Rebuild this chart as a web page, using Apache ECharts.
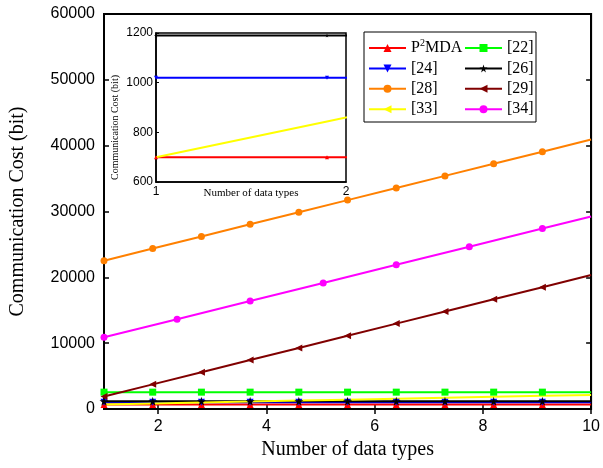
<!DOCTYPE html>
<html>
<head>
<meta charset="utf-8">
<script src="https://cdn.jsdelivr.net/npm/echarts@6/dist/echarts.min.js"></script>
<style>
  html, body { margin: 0; padding: 0; background: #fff; }
  #chart { width: 603px; height: 468px; }
</style>
</head>
<body>
<div id="chart"></div>
<script>
// x positions where the markers sit (number of data types)
const xs = [1, 1.9, 2.8, 3.7, 4.6, 5.5, 6.4, 7.3, 8.2, 9.1, 10]
const xsRef34 = [1, 2.35, 3.7, 5.05, 6.4, 7.75, 9.1, 10]

// communication cost (bit)
const p2mda = [700, 700, 700, 700, 700, 700, 700, 700, 700, 700, 700]
const ref22 = [2560, 2560, 2560, 2560, 2560, 2560, 2560, 2560, 2560, 2560, 2560]
const ref24 = [1020, 1020, 1020, 1020, 1020, 1020, 1020, 1020, 1020, 1020, 1020]
const ref26 = [1190, 1190, 1190, 1190, 1190, 1190, 1190, 1190, 1190, 1190, 1190]
const ref28 = [22530, 24370, 26210, 28050, 29890, 31730, 33570, 35410, 37250, 39090, 40930]
const ref29 = [1900, 3745, 5590, 7435, 9280, 11125, 12970, 14815, 16660, 18505, 20350]
const ref33 = [700, 844, 988, 1132, 1276, 1420, 1564, 1708, 1852, 1996, 2140]
const ref34 = [10890, 13644, 16398, 19152, 21906, 24660, 27414, 29250]

const xTicks = [2, 4, 6, 8, 10]

const star = 'path://M50,0 L61,35 L98,35 L68,57 L79,91 L50,70 L21,91 L32,57 L2,35 L39,35 Z'
const serif = 'Liberation Serif'
const sans = 'Liberation Sans'

// the curves run on past 10, so no marker is drawn at the right edge
function pairs(x, y) {
  return y.map((v, i) => x[i] >= 10 ? { value: [x[i], v], symbol: 'none' } : [x[i], v])
}

const styles = [
  { name: 'P2MDA', color: '#ff0000', symbol: 'triangle', rotate: 0, x: xs, y: p2mda },
  { name: '[22]', color: '#00ff00', symbol: 'rect', rotate: 0, x: xs, y: ref22 },
  { name: '[24]', color: '#0000ff', symbol: 'triangle', rotate: 180, x: xs, y: ref24 },
  { name: '[26]', color: '#000000', symbol: star, rotate: 0, x: xs, y: ref26 },
  { name: '[28]', color: '#ff8000', symbol: 'circle', rotate: 0, x: xs, y: ref28 },
  { name: '[29]', color: '#800000', symbol: 'triangle', rotate: 90, x: xs, y: ref29 },
  { name: '[33]', color: '#ffff00', symbol: 'triangle', rotate: 90, x: xs, y: ref33, noMarks: true },
  { name: '[34]', color: '#ff00ff', symbol: 'circle', rotate: 0, x: xsRef34, y: ref34 }
]

const series = styles.map(s => ({
  name: s.name,
  type: 'line',
  xAxisIndex: 0,
  yAxisIndex: 0,
  data: pairs(s.x, s.y),
  symbol: s.symbol,
  symbolRotate: s.rotate,
  symbolSize: s.symbol === star ? 9 : 7,
  showSymbol: !s.noMarks,
  color: s.color,
  lineStyle: { width: 2, color: s.color },
  itemStyle: { color: s.color },
  animation: false
}))

// inset: zoom on the low series between 1 and 2 data types
const insetNames = ['P2MDA', '[24]', '[26]', '[33]']
styles.filter(s => insetNames.includes(s.name)).forEach(s => {
  series.push({
    name: s.name,
    type: 'line',
    xAxisIndex: 2,
    yAxisIndex: 2,
    data: pairs(s.x, s.y),
    symbol: s.symbol,
    symbolRotate: s.rotate,
    symbolSize: 4,
    showSymbol: !s.noMarks,
    clip: true,
    color: s.color,
    lineStyle: { width: 2, color: s.color },
    itemStyle: { color: s.color },
    animation: false
  })
})

const legendBase = {
  orient: 'vertical',
  top: 38,
  padding: 0,
  itemWidth: 37,
  itemHeight: 10,
  itemGap: 0.4,
  selectedMode: false,
  formatter: n => n === 'P2MDA' ? 'P{sup|2}MDA' : n,
  textStyle: {
    fontFamily: serif,
    fontSize: 16,
    lineHeight: 20,
    color: '#000',
    rich: {
      sup: { fontFamily: serif, fontSize: 10, lineHeight: 20, verticalAlign: 'top', padding: [0, 0, 8, 0], color: '#000' }
    }
  }
}

const blackLine = { show: true, lineStyle: { color: '#000', width: 2 } }
const plain = v => String(v)

const option = {
  backgroundColor: '#fff',
  animation: false,
  grid: [
    { left: 102, right: 9, top: 14, bottom: 59, show: true, borderColor: '#000', borderWidth: 2 },
    { left: 156, top: 33, width: 190, height: 149, show: true, borderColor: '#000', borderWidth: 1.5, backgroundColor: '#fff' }
  ],
  legend: [
    Object.assign({}, legendBase, { left: 368, data: ['P2MDA', '[24]', '[28]', '[33]'] }),
    Object.assign({}, legendBase, { left: 464, data: ['[22]', '[26]', '[29]', '[34]'] })
  ],
  graphic: [
    {
      type: 'rect',
      shape: { x: 364, y: 32, width: 172, height: 90 },
      style: { fill: 'none', stroke: '#000', lineWidth: 1 },
      z: 10
    }
  ],
  xAxis: [
    {
      gridIndex: 0,
      type: 'value',
      min: 1,
      max: 10,
      position: 'bottom',
      axisLine: blackLine,
      axisTick: { show: true, inside: true, length: 5, customValues: xTicks, lineStyle: { color: '#000', width: 1.5 } },
      axisLabel: { customValues: xTicks, formatter: plain, fontFamily: sans, fontSize: 16, color: '#000', margin: 10 },
      splitLine: { show: false },
      name: 'Number of data types',
      nameLocation: 'middle',
      nameGap: 30,
      nameTextStyle: { fontFamily: serif, fontSize: 20, color: '#000' }
    },
    {
      gridIndex: 0,
      type: 'value',
      min: 1,
      max: 10,
      position: 'top',
      axisLine: blackLine,
      axisTick: { show: true, inside: true, length: 5, customValues: xTicks, lineStyle: { color: '#000', width: 1.5 } },
      axisLabel: { show: false },
      splitLine: { show: false }
    },
    {
      gridIndex: 1,
      type: 'value',
      min: 1,
      max: 2,
      interval: 1,
      axisLine: { show: true, lineStyle: { color: '#000', width: 1.5 } },
      axisTick: { show: false },
      axisLabel: { formatter: plain, fontFamily: sans, fontSize: 12, color: '#000', margin: 4 },
      splitLine: { show: false },
      name: 'Number of data types',
      nameLocation: 'middle',
      nameGap: 6,
      nameMoveOverlap: false,
      nameTextStyle: { fontFamily: serif, fontSize: 11, color: '#000', verticalAlign: 'top' }
    }
  ],
  yAxis: [
    {
      gridIndex: 0,
      type: 'value',
      min: 0,
      max: 60000,
      interval: 10000,
      position: 'left',
      axisLine: blackLine,
      axisTick: { show: true, inside: true, length: 5, lineStyle: { color: '#000', width: 1.5 } },
      axisLabel: { formatter: plain, fontFamily: sans, fontSize: 16, color: '#000', margin: 9 },
      splitLine: { show: false },
      name: 'Communication Cost (bit)',
      nameLocation: 'middle',
      nameGap: 76,
      nameMoveOverlap: false,
      nameTextStyle: { fontFamily: serif, fontSize: 20, color: '#000' }
    },
    {
      gridIndex: 0,
      type: 'value',
      min: 0,
      max: 60000,
      interval: 10000,
      position: 'right',
      axisLine: blackLine,
      axisTick: { show: true, inside: true, length: 5, lineStyle: { color: '#000', width: 1.5 } },
      axisLabel: { show: false },
      splitLine: { show: false }
    },
    {
      gridIndex: 1,
      type: 'value',
      min: 600,
      max: 1200,
      interval: 200,
      axisLine: { show: true, lineStyle: { color: '#000', width: 1.5 } },
      axisTick: { show: true, inside: true, length: 3, lineStyle: { color: '#000' } },
      axisLabel: { formatter: plain, fontFamily: sans, fontSize: 12, color: '#000', margin: 3 },
      splitLine: { show: false },
      name: 'Communication Cost (bit)',
      nameLocation: 'middle',
      nameGap: 36,
      nameMoveOverlap: false,
      // the inset title sits a little below the middle of its axis
      nameTextStyle: { fontFamily: serif, fontSize: 10, color: '#000', padding: [0, 40, 0, 0] }
    }
  ],
  series
}

const myChart = echarts.init(document.getElementById('chart'))
myChart.setOption(option)
</script>
</body>
</html>
